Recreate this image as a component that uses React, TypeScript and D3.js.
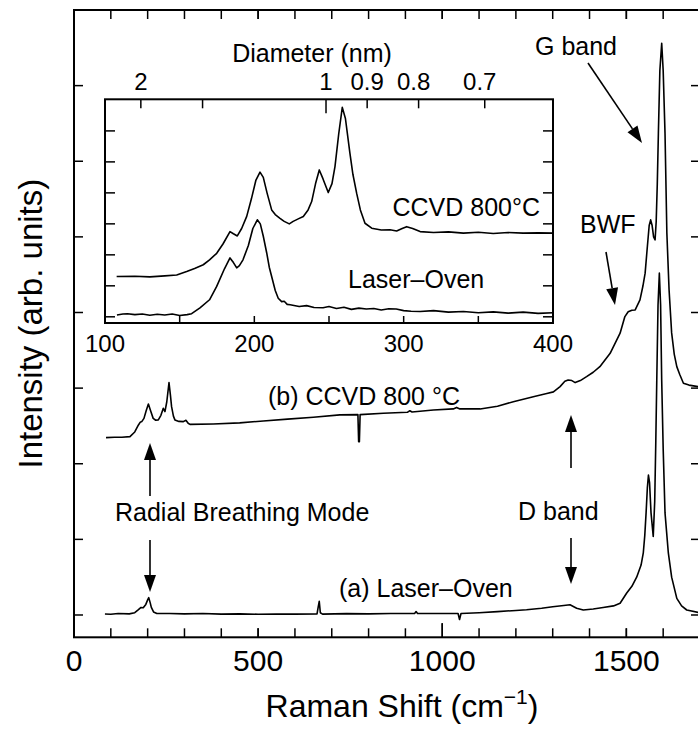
import React from "react";
import * as d3 from "d3";

// ---------- data ----------
// Main panel: Raman shift (cm^-1) vs intensity (arb. units, tick units)
const laserOvenMain: [number, number][] = [
  [84, 0.013], [100, 0.01], [120, 0.02], [150, 0.015], [165, 0.03], [175, 0.07], [182, 0.1], [188, 0.095],
  [195, 0.14], [200, 0.2], [203, 0.23], [207, 0.16], [210, 0.1], [216, 0.04], [225, 0.02], [260, 0.02],
  [300, 0.015], [350, 0.02], [400, 0.012], [450, 0.015], [500, 0.01], [550, 0.014], [600, 0.012],
  [660, 0.015], [663, 0.1], [666, 0.18], [669, 0.03], [675, 0.012], [740, 0.018], [800, 0.015],
  [860, 0.02], [925, 0.02], [929, 0.045], [933, 0.02], [1000, 0.02], [1043, 0.02], [1047, -0.06],
  [1051, 0.02], [1100, 0.03], [1150, 0.045], [1200, 0.06], [1229, 0.07], [1270, 0.09], [1300, 0.11],
  [1330, 0.125], [1347, 0.135], [1365, 0.09], [1383, 0.066], [1410, 0.08], [1437, 0.1], [1465, 0.12],
  [1483, 0.155], [1501, 0.29], [1515, 0.38], [1528, 0.5], [1540, 0.66], [1546, 0.82], [1550, 1.05],
  [1553.6, 1.35], [1557, 1.68], [1560, 1.85], [1563, 1.75], [1567, 1.35], [1573, 1.04], [1577, 1.5],
  [1580, 2.3], [1582.6, 3.1], [1586, 4.1], [1589.6, 4.52], [1593, 4.1], [1596, 3.1], [1600, 2.2],
  [1605, 1.35], [1614, 0.82], [1623, 0.5], [1637, 0.22], [1650, 0.12], [1664, 0.066], [1695, 0.035],
  [1700, 0.03],
];

const ccvdMain: [number, number][] = [
  [87, 2.345], [110, 2.35], [130, 2.35], [152, 2.358], [165, 2.42], [175, 2.513], [180, 2.55],
  [184, 2.557], [190, 2.6], [196, 2.7], [202, 2.79], [208, 2.7], [215, 2.6], [222, 2.575], [229, 2.58],
  [236, 2.64], [242.5, 2.734], [247, 2.69], [252, 2.82], [258, 3.073], [262, 2.9], [265, 2.755],
  [270, 2.63], [274, 2.58], [285, 2.56], [297, 2.557], [304, 2.575], [310, 2.535], [315, 2.52],
  [378, 2.526], [450, 2.54], [514, 2.566], [580, 2.59], [650, 2.615], [722, 2.646], [771, 2.65],
  [773, 2.29], [775, 2.292], [777, 2.65], [840, 2.668], [905, 2.68], [912, 2.7], [918, 2.685],
  [976, 2.71], [1030, 2.725], [1039, 2.745], [1048, 2.725], [1103, 2.725], [1150, 2.76],
  [1193, 2.82], [1250, 2.89], [1284, 2.93], [1302, 2.95], [1320, 3.02], [1333, 3.09], [1342, 3.108],
  [1352, 3.1], [1361, 3.073], [1375, 3.1], [1392, 3.152], [1410, 3.21], [1428, 3.284], [1456, 3.46],
  [1483, 3.726], [1496, 3.946], [1505, 4.01], [1515, 4.03], [1524, 4.034], [1537, 4.167], [1545, 4.35],
  [1551, 4.52], [1557, 4.87], [1562, 5.15], [1566, 5.225], [1570, 5.15], [1574, 5.0], [1578, 4.96],
  [1581, 5.2], [1584, 5.7], [1587, 6.37], [1591, 7.2], [1596, 7.56], [1600, 7.2], [1605, 6.37],
  [1610, 5.05], [1616, 4.3], [1623, 3.73], [1630, 3.45], [1637, 3.284], [1645, 3.18], [1655, 3.065],
  [1670, 3.04], [1695, 3.02], [1700, 3.02],
];

// Inset: RBM region
const laserOvenInset: [number, number][] = [
  [108, 0.06], [112, 0.09], [115, 0.1], [120, 0.07], [125, 0.09], [130, 0.05], [135, 0.08], [140, 0.06],
  [145, 0.09], [150, 0.04], [155, 0.07], [158, 0.1], [163.6, 0.29], [170, 0.55], [174.8, 0.98],
  [180, 1.55], [183.7, 1.9], [186, 1.75], [188.2, 1.58], [190, 1.65], [192.4, 1.84], [196, 2.3],
  [199, 2.85], [202, 3.13], [204, 3.0], [206, 2.6], [208.3, 2.06], [210, 1.6], [211.6, 1.3], [214, 0.85],
  [216, 0.6], [218.3, 0.49], [220, 0.5], [222, 0.4], [224, 0.39], [230, 0.33], [235, 0.36], [240, 0.3],
  [246, 0.29], [250, 0.33], [255, 0.27], [260, 0.31], [265, 0.24], [270, 0.28], [275, 0.25], [280, 0.27],
  [285, 0.22], [290, 0.26], [295, 0.25], [300, 0.2], [305, 0.18], [311, 0.17], [320, 0.2], [330, 0.15],
  [340, 0.17], [350, 0.13], [360, 0.16], [370, 0.12], [380, 0.15], [390, 0.11], [400, 0.13],
];

const ccvdInset: [number, number][] = [
  [107.8, 1.3], [120, 1.31], [130, 1.29], [140, 1.32], [148, 1.35], [154.7, 1.46], [160, 1.56],
  [165.8, 1.68], [170, 1.84], [174.8, 2.05], [179, 2.35], [183.7, 2.75], [186, 2.68], [188.6, 2.61],
  [191.5, 2.85], [194.9, 3.24], [198, 3.8], [201, 4.4], [203.8, 4.67], [206, 4.5], [208.5, 4.0],
  [211.6, 3.45], [214, 3.3], [217.2, 3.18], [220, 3.08], [223.4, 3.0], [226, 3.08], [229.4, 3.16],
  [232.8, 3.24], [236, 3.45], [238.4, 3.72], [241, 4.3], [243.5, 4.74], [246, 4.45], [249.5, 4.01],
  [252, 4.3], [254, 4.85], [256.5, 5.9], [258.9, 6.76], [261, 6.4], [264, 5.28], [266, 4.6],
  [268.5, 3.99], [271, 3.45], [274.1, 3.02], [278.6, 2.86], [285, 2.8], [290.8, 2.81], [295.3, 2.77],
  [299, 2.85], [302, 2.91], [306, 2.85], [311, 2.75], [320, 2.72], [330, 2.74], [340, 2.7], [350, 2.73],
  [360, 2.69], [370, 2.72], [380, 2.7], [390, 2.71], [400, 2.7],
];

const mainXMajor = [0, 500, 1000, 1500];
const mainXMinor = d3.range(100, 1700, 100);
const mainYTicks = d3.range(0, 9, 1);
const insetXLabels = [100, 200, 300, 400];
const insetXMinor = [150, 200, 250, 300, 350];
const insetYTicks = d3.range(0, 7, 1);
const diameterTicks = [2, 1.5, 1, 0.9, 0.8, 0.7];
const diameterLabels = ["2", "", "1", "0.9", "0.8", "0.7"];
const RBM_CONSTANT = 248; // omega = 248 / d

const FONT = "'Liberation Sans', Arial, Helvetica, sans-serif";

function Arrow({ x1, y1, x2, y2, len = 17, half = 6 }: { x1: number; y1: number; x2: number; y2: number; len?: number; half?: number }) {
  const dx = x2 - x1, dy = y2 - y1;
  const L = Math.hypot(dx, dy);
  const ux = dx / L, uy = dy / L;
  const bx = x2 - ux * len, by = y2 - uy * len;
  const px = -uy * half, py = ux * half;
  return (
    <g>
      <line x1={x1} y1={y1} x2={bx} y2={by} stroke="#000" strokeWidth={1.6} />
      <polygon points={`${x2},${y2} ${bx + px},${by + py} ${bx - px},${by - py}`} fill="#000" />
    </g>
  );
}

export default function App() {
  const W = 698, H = 729;
  // main scales
  const x = d3.scaleLinear().domain([0, 1700]).range([74, 700]);
  const y = d3.scaleLinear().domain([-0.295, 8]).range([637.3, 10]);
  // inset scales
  const xi = d3.scaleLinear().domain([100, 400]).range([105, 553]);
  const yi = d3.scaleLinear().domain([-0.2, 7.02]).range([323, 99.3]);

  const lineMain = d3.line<[number, number]>().x((d) => x(d[0])).y((d) => y(d[1]));
  const lineInset = d3.line<[number, number]>().x((d) => xi(d[0])).y((d) => yi(d[1]));

  const left = x.range()[0], right = x.range()[1];
  const top = y.range()[1], bottom = y.range()[0];
  const il = xi.range()[0], ir = xi.range()[1], it = yi.range()[1], ib = yi.range()[0];

  return (
    <div style={{ position: "absolute", left: 0, top: 0, width: W, height: H, overflow: "hidden" }}>
      <svg width={W} height={H} style={{ display: "block", background: "#fff" }} fontFamily={FONT}>
        {/* main frame */}
        <rect x={left} y={top} width={right - left} height={bottom - top} fill="none" stroke="#000" strokeWidth={2} />
        {/* x ticks */}
        {[...mainXMajor, ...mainXMinor].map((v, i) => (
          <g key={"xt" + i}>
            <line x1={x(v)} x2={x(v)} y1={bottom} y2={bottom - (v === 1000 ? 14 : 9)} stroke="#000" strokeWidth={1.5} />
            <line x1={x(v)} x2={x(v)} y1={top} y2={top + 9} stroke="#000" strokeWidth={1.5} />
          </g>
        ))}
        {mainXMajor.map((v) => (
          <text key={"xl" + v} x={x(v)} y={671} fontSize={30} textAnchor="middle">{v}</text>
        ))}
        {/* y ticks */}
        {mainYTicks.map((v) => (
          <g key={"yt" + v}>
            <line x1={left} x2={left + 9} y1={y(v)} y2={y(v)} stroke="#000" strokeWidth={1.5} />
            <line x1={right} x2={right - 9} y1={y(v)} y2={y(v)} stroke="#000" strokeWidth={1.5} />
          </g>
        ))}
        {/* axis titles */}
        <text x={402} y={717} fontSize={32} textAnchor="middle">
          Raman Shift (cm<tspan dy={-13} fontSize={21}>−1</tspan><tspan dy={13}>)</tspan>
        </text>
        <text transform={`translate(42,${(top + bottom) / 2}) rotate(-90)`} fontSize={33} textAnchor="middle">
          Intensity (arb. units)
        </text>

        {/* main curves */}
        <path d={lineMain(laserOvenMain) || ""} fill="none" stroke="#000" strokeWidth={1.6} strokeLinejoin="round" />
        <path d={lineMain(ccvdMain) || ""} fill="none" stroke="#000" strokeWidth={1.6} strokeLinejoin="round" />

        {/* annotations */}
        <text x={535} y={55} fontSize={25}>G band</text>
        <Arrow x1={588} y1={63} x2={642} y2={143} />
        <text x={580} y={233} fontSize={25}>BWF</text>
        <Arrow x1={606} y1={252} x2={615} y2={305} />
        <text x={268} y={405} fontSize={25}>(b) CCVD 800 °C</text>
        <text x={339} y={597} fontSize={25}>(a) Laser–Oven</text>
        <text x={115} y={521} fontSize={25}>Radial Breathing Mode</text>
        <Arrow x1={150} y1={496} x2={150} y2={443} />
        <Arrow x1={150} y1={540} x2={150} y2={592} />
        <text x={518} y={520} fontSize={25}>D band</text>
        <Arrow x1={571} y1={468} x2={571} y2={415} />
        <Arrow x1={571} y1={538} x2={571} y2={584} />

        {/* inset */}
        <rect x={il} y={it} width={ir - il} height={ib - it} fill="#fff" stroke="#000" strokeWidth={2} />
        {insetYTicks.map((v) => (
          <g key={"iyt" + v}>
            <line x1={il} x2={il + 10} y1={yi(v)} y2={yi(v)} stroke="#000" strokeWidth={1.5} />
            <line x1={ir} x2={ir - 10} y1={yi(v)} y2={yi(v)} stroke="#000" strokeWidth={1.5} />
          </g>
        ))}
        {insetXMinor.map((v) => (
          <line key={"ixt" + v} x1={xi(v)} x2={xi(v)} y1={ib} y2={ib - 7} stroke="#000" strokeWidth={1.5} />
        ))}
        {insetXLabels.map((v) => (
          <text key={"ixl" + v} x={xi(v)} y={352} fontSize={24} textAnchor="middle">{v}</text>
        ))}
        {diameterTicks.map((d, i) => (
          <g key={"dt" + d}>
            <line x1={xi(RBM_CONSTANT / d)} x2={xi(RBM_CONSTANT / d)} y1={it} y2={it + (d === 1 ? 14 : 9)} stroke="#000" strokeWidth={1.5} />
            {diameterLabels[i] && (
              <text x={xi(RBM_CONSTANT / d) - (d < 0.85 ? 5 : 0)} y={90} fontSize={24} textAnchor="middle">{diameterLabels[i]}</text>
            )}
          </g>
        ))}
        <text x={312} y={62} fontSize={25} textAnchor="middle">Diameter (nm)</text>
        <path d={lineInset(laserOvenInset) || ""} fill="none" stroke="#000" strokeWidth={1.6} strokeLinejoin="round" />
        <path d={lineInset(ccvdInset) || ""} fill="none" stroke="#000" strokeWidth={1.6} strokeLinejoin="round" />
        <text x={540} y={216} fontSize={25} textAnchor="end">CCVD 800°C</text>
        <text x={348} y={288} fontSize={25}>Laser–Oven</text>
      </svg>
    </div>
  );
}
